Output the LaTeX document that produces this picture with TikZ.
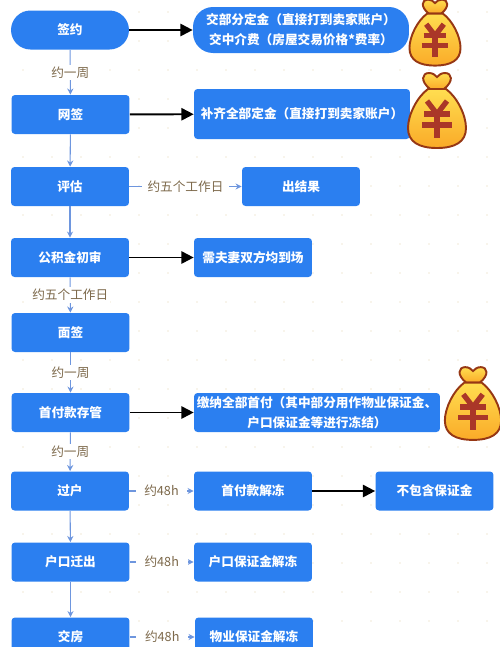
\documentclass[tikz,border=0pt]{standalone}
\usepackage{fontspec}
\setmainfont{Noto Sans CJK SC}
\usetikzlibrary{arrows.meta}
\definecolor{flowblue}{RGB}{43, 127, 240}
\definecolor{linkblue}{RGB}{110, 150, 222}
\definecolor{lblbrown}{RGB}{125, 105, 75}
\definecolor{bagline}{RGB}{150, 55, 20}
\definecolor{bagmark}{RGB}{170, 55, 40}
\definecolor{bagtop}{RGB}{255, 222, 80}
\definecolor{bagbot}{RGB}{250, 170, 40}
\definecolor{dotbeige}{RGB}{240, 232, 215}

\begin{document}
\begin{tikzpicture}[x=0.02cm, y=-0.02cm,
        stepn/.style={rectangle, fill=flowblue, rounded corners=2pt, text=white, minimum width=2.36cm, minimum height=0.78cm, inner sep=0pt, align=center, font=\fontsize{7.2}{11.2}\selectfont\bfseries},
        pilln/.style={stepn, rounded corners=0.39cm},
        lbl/.style={fill=white, inner sep=1pt, text=lblbrown, font=\fontsize{7.2}{9}\selectfont},
        link/.style={linkblue, line width=0.6pt, -{Stealth[length=3.5pt, width=3.5pt]}},
        pay/.style={black, line width=1.1pt, -{Triangle[length=7pt, width=7pt]}},
        moneybag/.pic={
          \draw[bagline, line width=1.1pt, top color=bagtop, bottom color=bagbot]
            (-7,-22) .. controls (-17,-30) and (-15,-38) .. (-8,-38) .. controls (-4,-38) and (-2,-36) .. (0,-34)
            .. controls (2,-36) and (4,-38) .. (8,-38) .. controls (15,-38) and (17,-30) .. (7,-22) -- cycle;
          \draw[bagline, line width=1.1pt, top color=bagtop, bottom color=bagbot]
            (-9,-22) .. controls (-20,-14) and (-29,4) .. (-29,17) .. controls (-29,31) and (-18,37) .. (0,37)
            .. controls (18,37) and (29,31) .. (29,17) .. controls (29,4) and (20,-14) .. (9,-22) -- cycle;
          \draw[bagmark, line width=3pt] (-10,-10) -- (0,3) -- (10,-10);
          \draw[bagmark, line width=3pt] (-13,3) -- (13,3);
          \draw[bagmark, line width=3pt] (-15,14) -- (15,14);
          \draw[bagmark, line width=3pt] (0,3) -- (0,27);
        }
      ]
        \clip (0,0) rectangle (500,647);
        % dots behind the chart
        \foreach \i in {1,...,17} \foreach \j in {0,...,22} { \fill[dotbeige] (\i*29-6, \j*29+12) circle (0.5pt); }
        % left column
        \node[pilln] (sign) at (70,30) {签约};
        \node[stepn] (online) at (70.5,114.5) {网签};
        \node[stepn] (appraise) at (70,186.5) {评估};
        \node[stepn] (review) at (70,257.5) {公积金初审};
        \node[stepn] (face) at (70.5,332.5) {面签};
        \node[stepn] (escrow) at (70.5,412.5) {首付款存管};
        \node[stepn] (transfer) at (70,491) {过户};
        \node[stepn] (moveout) at (70.5,562) {户口迁出};
        \node[stepn] (handover) at (70.5,637) {交房};
        % right columns
        \node[pilln, minimum width=4.32cm, minimum height=0.92cm, rounded corners=0.4cm] (deposit) at (301,30) {交部分定金（直接打到卖家账户）\\交中介费（房屋交易价格*费率）};
        \node[stepn, minimum width=4.32cm, minimum height=1cm] (topup) at (302,114) {补齐全部定金（直接打到卖家账户）};
        \node[stepn] (result) at (301,186.5) {出结果};
        \node[stepn] (couple) at (253,257.5) {需夫妻双方均到场};
        \node[stepn, minimum width=4.92cm] (fullpay) at (317,412.5) {缴纳全部首付（其中部分用作物业保证金、\\户口保证金等进行冻结）};
        \node[stepn] (release) at (253,491) {首付款解冻};
        \node[stepn] (exclude) at (434.5,491) {不包含保证金};
        \node[stepn] (hukou) at (253,562) {户口保证金解冻};
        \node[stepn] (property) at (254,637) {物业保证金解冻};
        % money bags
        \pic[scale=0.88] at (435,33) {moneybag};
        \pic at (437,111) {moneybag};
        \pic[scale=0.97] at (473,404) {moneybag};
        % timing links
        \draw[link] (sign) -- node[lbl] {约一周} (online);
        \draw[link] (online) -- (appraise);
        \draw[link] (appraise) -- (review);
        \draw[link] (review) -- node[lbl] {约五个工作日} (face);
        \draw[link] (face) -- node[lbl] {约一周} (escrow);
        \draw[link] (escrow) -- node[lbl] {约一周} (transfer);
        \draw[link] (transfer) -- (moveout);
        \draw[link] (moveout) -- (handover);
        \draw[link] (appraise) -- node[lbl, inner xsep=3pt] {约五个工作日} (result);
        \draw[link] (transfer) -- node[lbl, inner xsep=5pt] {约48h} (release);
        \draw[link] (moveout) -- node[lbl, inner xsep=5pt] {约48h} (hukou);
        \draw[link] (handover) -- node[lbl, inner xsep=5pt] {约48h} (property);
        % money links
        \draw[pay] (sign) -- (deposit);
        \draw[pay] (online) -- (topup);
        \draw[pay] (review) -- (couple);
        \draw[pay] (escrow) -- (fullpay);
        \draw[pay] (release) -- (exclude);
      \end{tikzpicture}
\end{document}
